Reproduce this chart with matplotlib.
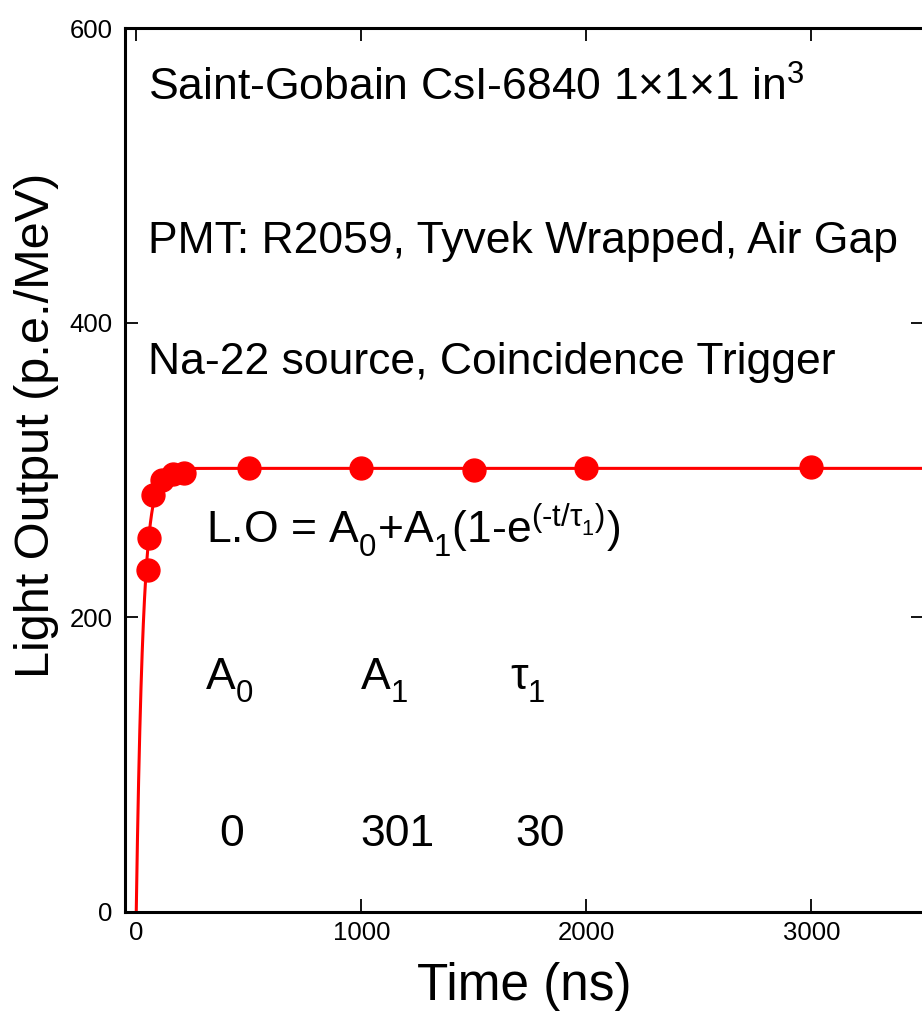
import numpy as np
import matplotlib; matplotlib.use("Agg")
import matplotlib.pyplot as plt

plt.rcParams["font.family"] = ["Liberation Sans", "DejaVu Sans"]
plt.rcParams["mathtext.fontset"] = "custom"
plt.rcParams["mathtext.rm"] = "Liberation Sans"
plt.rcParams["mathtext.it"] = "Liberation Sans"
plt.rcParams["mathtext.bf"] = "Liberation Sans:bold"
try:
    # drop subscripts a bit lower, like the original figure
    from matplotlib import _mathtext
    _mathtext.FontConstantsBase.sub1 = 0.55
    _mathtext.FontConstantsBase.sub2 = 0.6
except Exception:
    pass

# measured points
time_ns = [50, 55, 75, 115, 165, 210, 500, 1000, 1500, 2000, 3000]
light_out = [232, 254, 283, 293, 297, 298, 301, 301, 300, 301, 302]

# fit parameters shown on the chart
A0, A1, TAU1 = 0, 301, 30

X_TICKS = [0, 1000, 2000, 3000]
Y_TICKS = [0, 200, 400, 600]

W, H = 922, 1011
fig = plt.figure(figsize=(W / 100, H / 100), dpi=100)
ax = fig.add_axes([125 / W, 1 - 911.7 / H, (924 - 125) / W, (911.7 - 28) / H])

red = "#ff0000"
t_fit = np.linspace(0, 3500, 2000)
ax.plot(t_fit, A0 + A1 * (1 - np.exp(-t_fit / TAU1)), color=red, lw=2.2, zorder=2)
ax.plot(time_ns, light_out, "o", color=red, ms=16.5, mec=red, zorder=3)

ax.set_xlim(-50, 3500)
ax.set_ylim(0, 600)
ax.set_xticks(X_TICKS)
ax.set_yticks(Y_TICKS)
ax.tick_params(direction="in", length=9.5, width=1.3, labelsize=18.5,
               top=True, right=True)
ax.tick_params(axis="x", pad=7)
ax.tick_params(axis="y", pad=9)
for s in ax.spines.values():
    s.set_linewidth(2.2)

ax.set_xlabel("Time (ns)", fontsize=37, labelpad=12)
fig.text(37 / W, 1 - 425 / H, "Light Output (p.e./MeV)", fontsize=35,
         rotation=90, ha="center", va="center")


def put(x, y, s, **kw):
    # x, y in pixels, y = text baseline
    fig.text(x / W, 1 - y / H, s, fontsize=32, va="baseline", ha="left", **kw)


put(148, 101, r"Saint-Gobain CsI-6840 1$\times$1$\times$1 in$^3$")
put(148, 253, "PMT: R2059, Tyvek Wrapped, Air Gap")
put(148, 374, "Na-22 source, Coincidence Trigger")
put(206, 543, "L.O = A$_0$+A$_1$(1-e$^{(\u2010t/\\tau_1)}$)")
put(205, 690, r"A$_0$")
put(360, 690, r"A$_1$")
put(510, 690, r"$\tau_1$")
put(219, 846, "0")
put(360, 846, "301")
put(515, 846, "30")

fig.savefig("out.png", dpi=100)
